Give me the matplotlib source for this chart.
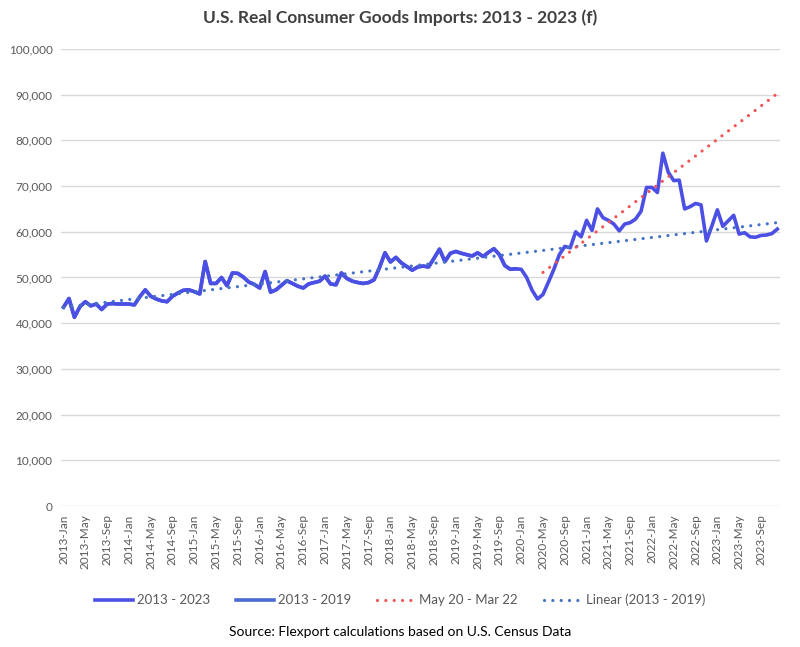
import numpy as np
import matplotlib
matplotlib.use("Agg")
import matplotlib.pyplot as plt
from matplotlib.ticker import FuncFormatter

plt.rcParams['font.family'] = ['Lato', 'DejaVu Sans']

months = ['Jan', 'Feb', 'Mar', 'Apr', 'May', 'Jun', 'Jul', 'Aug', 'Sep', 'Oct', 'Nov', 'Dec']
periods = [f"{y}-{m}" for y in range(2013, 2024) for m in months]

# Real consumer goods imports, 2013-Jan .. 2023-Dec
imports_2013_2023 = [
    43.5, 45.4, 41.3, 43.6, 44.7, 43.8, 44.2, 43.0, 44.2, 44.3, 44.2, 44.2,   # 2013
    44.2, 44.0, 45.8, 47.3, 45.9, 45.3, 44.9, 44.7, 45.9, 46.6, 47.2, 47.3,   # 2014
    46.9, 46.4, 53.5, 48.7, 48.7, 50.0, 48.2, 51.0, 50.9, 50.1, 49.0, 48.5,   # 2015
    47.7, 51.3, 46.8, 47.3, 48.3, 49.3, 48.7, 48.1, 47.7, 48.6, 48.9, 49.2,   # 2016
    50.3, 48.6, 48.4, 51.0, 49.8, 49.2, 48.9, 48.7, 48.9, 49.5, 52.2, 55.4,   # 2017
    53.4, 54.4, 53.2, 52.4, 51.6, 52.3, 52.5, 52.3, 54.2, 56.2, 53.5, 55.3,   # 2018
    55.7, 55.3, 55.0, 54.7, 55.4, 54.6, 55.5, 56.3, 55.0, 52.6, 51.8, 51.9,   # 2019
    51.8, 50.0, 47.2, 45.3, 46.3, 49.0, 51.8, 55.0, 56.8, 56.5, 60.0, 58.9,   # 2020
    62.5, 60.3, 65.0, 63.1, 62.5, 61.7, 60.2, 61.7, 62.0, 62.8, 64.5, 69.7,   # 2021
    69.7, 68.6, 77.2, 73.0, 71.2, 71.3, 65.0, 65.5, 66.2, 65.9, 58.0, 61.3,   # 2022
    64.8, 61.2, 62.4, 63.6, 59.5, 59.8, 58.9, 58.8, 59.2, 59.3, 59.6, 60.6,   # 2023
]
imports_2013_2023 = [v * 1000 for v in imports_2013_2023]

n_2019 = 84          # 2013-Jan .. 2019-Dec
covid_start = 88     # 2020-May
covid_end = 110      # 2022-Mar

x = np.arange(len(periods))
y = np.array(imports_2013_2023)

fig = plt.figure(figsize=(8, 6.47), dpi=100)
ax = fig.add_axes([0.076, 0.2179, 0.899, 0.7064])

grid_c = '#D9D9D9'
ax.set_ylim(0, 100000)
ax.set_xlim(-0.5, len(periods) - 0.5)
ax.set_yticks(np.arange(0, 100001, 10000))
ax.yaxis.set_major_formatter(FuncFormatter(lambda v, p: f"{int(v):,}"))
ax.grid(axis='y', color=grid_c, linewidth=1.0)
ax.set_axisbelow(True)
for s in ax.spines.values():
    s.set_visible(False)
ax.tick_params(axis='y', length=0, labelsize=8.5, labelcolor='#595959', pad=6)
ax.set_xticks(x[::4])
ax.set_xticklabels(periods[::4], rotation=90, fontsize=8.5, color='#595959')
ax.tick_params(axis='x', length=0, pad=6)

# Series
l1, = ax.plot(x[:n_2019], y[:n_2019], color='#4A6BD6', linewidth=2.6,
              solid_joinstyle='round', label='2013 - 2019', zorder=3)
l0, = ax.plot(x, y, color='#4B4FE3', linewidth=2.6, solid_joinstyle='round',
              label='2013 - 2023', zorder=4)

# Linear trend (2013 - 2019), extended to end
c1 = np.polyfit(x[:n_2019], y[:n_2019], 1)
l3, = ax.plot(x, np.polyval(c1, x), color='#4472C4', linewidth=2.3,
              linestyle=(0, (0.01, 2.6)), dash_capstyle='round',
              label='Linear (2013 - 2019)', zorder=5)

# Trend May 20 - Mar 22, extended forward
xs = x[covid_start:covid_end + 1]
c2 = np.polyfit(xs, y[covid_start:covid_end + 1], 1)
xr = x[covid_start:]
l2, = ax.plot(xr, np.polyval(c2, xr), color='#F05454', linewidth=2.3,
              linestyle=(0, (0.01, 2.6)), dash_capstyle='round',
              label='May 20 - Mar 22', zorder=5)

fig.text(0.5, 1 - 18 / 647, 'U.S. Real Consumer Goods Imports: 2013 - 2023 (f)',
         ha='center', va='center', fontsize=12.5, fontweight='bold', color='#404040')

fig.legend(handles=[l0, l1, l2, l3], loc='center', ncol=4, frameon=False,
           bbox_to_anchor=(0.5, 1 - 600 / 647), fontsize=9.5, handlelength=2.9,
           columnspacing=2.0, labelcolor='#595959', handletextpad=0.25)

fig.text(0.5, 1 - 632 / 647, 'Source: Flexport calculations based on U.S. Census Data',
         ha='center', va='center', fontsize=10, color='black')

fig.savefig('out.png', dpi=100)
